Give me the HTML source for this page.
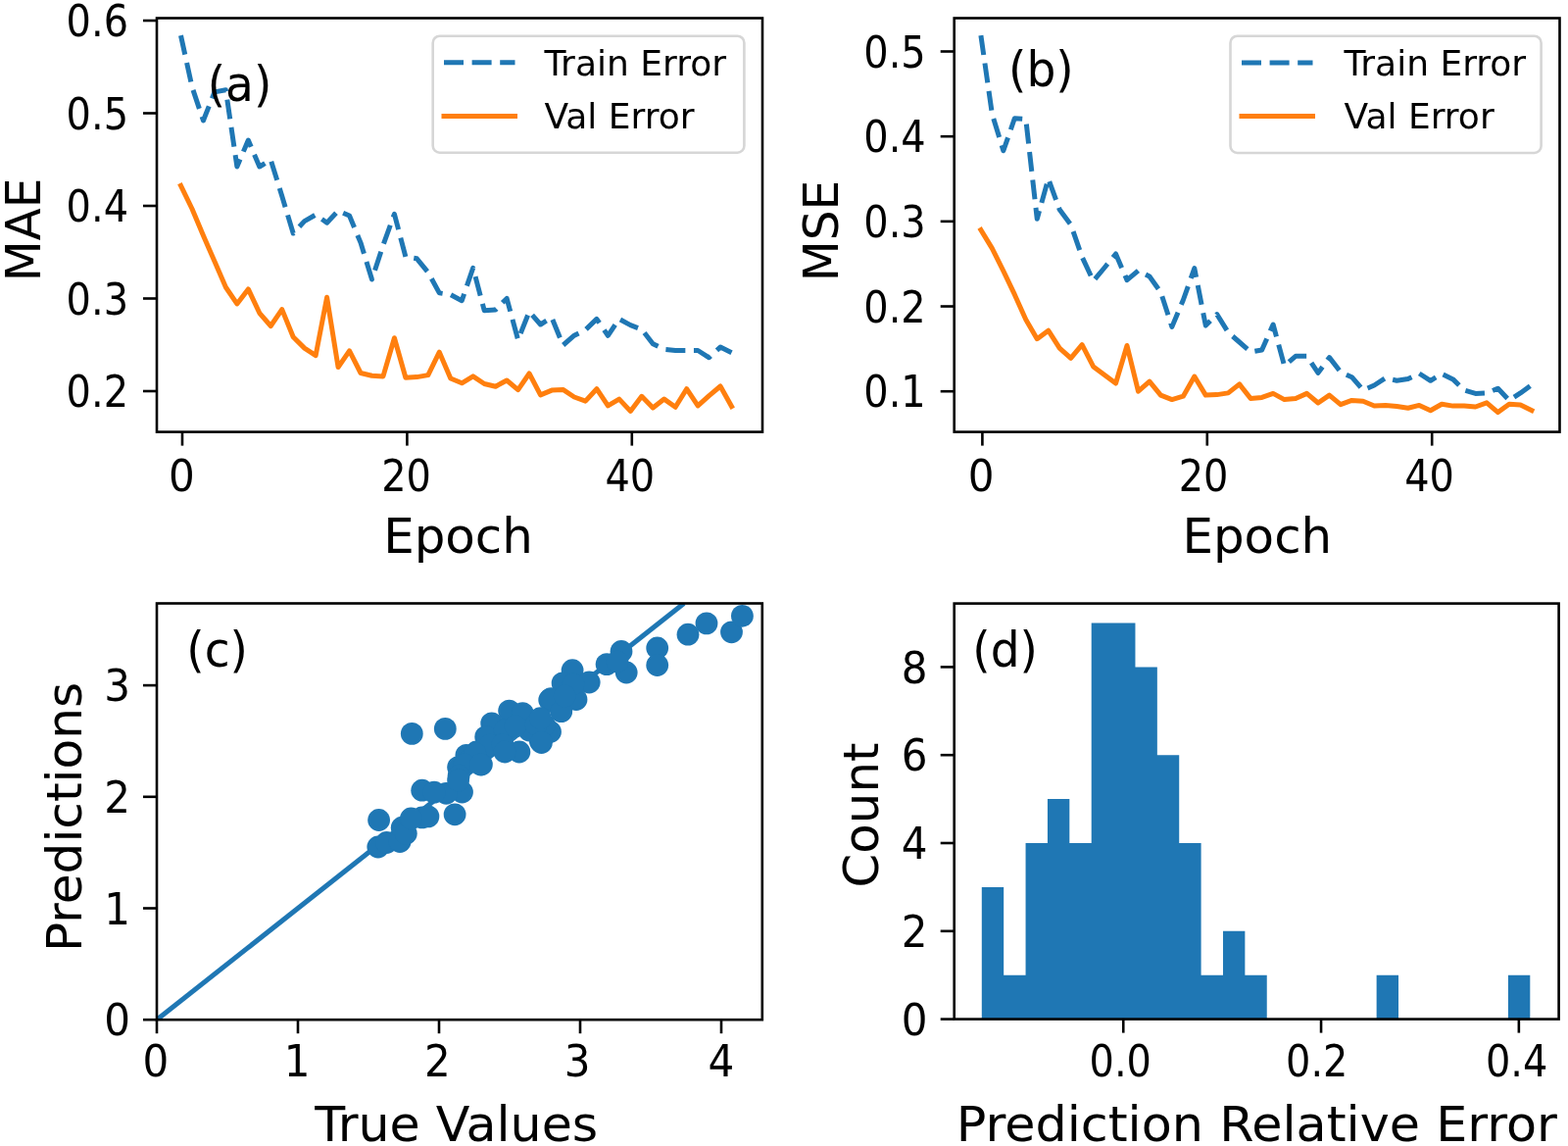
<!DOCTYPE html>
<html><head><meta charset="utf-8"><title>Training results</title><style>html,body{margin:0;padding:0;background:#fff;overflow:hidden;width:1600px;height:1169px;}svg{display:block;}</style></head><body>
<svg width="1600" height="1169" viewBox="0 0 1600 1169" font-family="DejaVu Sans, Liberation Sans, sans-serif" fill="#000">
<rect width="1600" height="1169" fill="#fff"/>
<defs><clipPath id="ca"><rect x="160" y="18.5" width="618" height="422.1"/></clipPath><clipPath id="cb"><rect x="973.7" y="18.5" width="617.8" height="422.1"/></clipPath><clipPath id="cc"><rect x="160" y="615.5" width="617.8" height="424.70000000000005"/></clipPath></defs>
<polyline points="184.5,36.1 195.97,88.7 207.44,123 218.91,93.9 230.38,91.7 241.85,170 253.32,143 264.79,170 276.26,163 287.73,200 299.2,238 310.67,225.6 322.14,219.1 333.61,227.2 345.08,215 356.55,220 368.02,247.6 379.49,285 390.96,250 402.43,218.3 413.9,262 425.37,263.8 436.84,277.8 448.31,298.9 459.78,300.6 471.25,306.7 482.72,273.3 494.19,316.7 505.66,316 517.13,304.4 528.6,346.7 540.07,317.8 551.54,331 563.01,323.9 574.48,352.2 585.95,342.2 597.42,336.5 608.89,325.4 620.36,342.3 631.83,325.4 643.3,331.6 654.77,336 666.24,350.7 677.71,356.4 689.18,357.5 700.65,357.5 712.12,357.5 723.59,364.8 735.06,354 746.53,359.7" fill="none" stroke="#1f77b4" stroke-width="5.0" stroke-linejoin="round" stroke-linecap="butt" stroke-dasharray="20 8.6" clip-path="url(#ca)"/>
<polyline points="184.5,189.4 195.97,213 207.44,240.3 218.91,266.6 230.38,293 241.85,309.9 253.32,294.9 264.79,319.3 276.26,332.5 287.73,315.6 299.2,343.8 310.67,355.1 322.14,362.6 333.61,303.3 345.08,374.6 356.55,357.8 368.02,380.5 379.49,383.2 390.96,383.9 402.43,344.7 413.9,385.3 425.37,384.6 436.84,382.6 448.31,359.2 459.78,386 471.25,390.8 482.72,383.9 494.19,391.5 505.66,394.2 517.13,388 528.6,397.7 540.07,381 551.54,402.9 563.01,398.1 574.48,397.4 585.95,405 597.42,409.1 608.89,396.7 620.36,413.9 631.83,407.1 643.3,419.4 654.77,404.3 666.24,416 677.71,407.1 689.18,415.3 700.65,396.7 712.12,413.9 723.59,403.6 735.06,394 746.53,414.6" fill="none" stroke="#ff7f0e" stroke-width="5.0" stroke-linejoin="round" stroke-linecap="square" clip-path="url(#ca)"/>
<polyline points="1000.9,36.2 1012.37,116.3 1023.84,153.8 1035.31,120.8 1046.78,121.6 1058.25,223.3 1069.72,182.2 1081.19,213.8 1092.66,229.2 1104.13,262 1115.6,286.6 1127.07,273 1138.54,259 1150.01,285.7 1161.48,276 1172.95,282 1184.42,298 1195.89,333.4 1207.36,306 1218.83,273.7 1230.3,332.1 1241.77,320.6 1253.24,339 1264.71,349 1276.18,359 1287.65,357 1299.12,331 1310.59,373.2 1322.06,363.3 1333.53,363.3 1345,380.4 1356.47,364.6 1367.94,379.5 1379.41,384.7 1390.88,397.9 1402.35,393 1413.82,385.6 1425.29,388.2 1436.76,386.5 1448.23,381 1459.7,388.3 1471.17,381.2 1482.64,386.9 1494.11,398.1 1505.58,401.4 1517.05,400.9 1528.52,396.2 1539.99,408.4 1551.46,400.9 1562.93,392.5" fill="none" stroke="#1f77b4" stroke-width="5.0" stroke-linejoin="round" stroke-linecap="butt" stroke-dasharray="20 8.6" clip-path="url(#cb)"/>
<polyline points="1000.9,234.5 1012.37,253.4 1023.84,276.4 1035.31,300.4 1046.78,326 1058.25,345.7 1069.72,337.2 1081.19,355.1 1092.66,365.4 1104.13,351.7 1115.6,373.9 1127.07,382.5 1138.54,391 1150.01,352.5 1161.48,399.2 1172.95,389.1 1184.42,403.1 1195.89,407.6 1207.36,404.2 1218.83,384 1230.3,403.1 1241.77,402.6 1253.24,400.9 1264.71,391.9 1276.18,406.5 1287.65,405.4 1299.12,401.4 1310.59,407.6 1322.06,406.5 1333.53,401.4 1345,411 1356.47,403.1 1367.94,412.7 1379.41,408.4 1390.88,409.2 1402.35,414 1413.82,413.6 1425.29,414.5 1436.76,416.2 1448.23,413.4 1459.7,418.7 1471.17,412.2 1482.64,414.1 1494.11,414.1 1505.58,415 1517.05,410.8 1528.52,420.6 1539.99,412.2 1551.46,413.1 1562.93,418.7" fill="none" stroke="#ff7f0e" stroke-width="5.0" stroke-linejoin="round" stroke-linecap="square" clip-path="url(#cb)"/>
<line x1="160" y1="1040.2" x2="697.88" y2="615.5" stroke="#1f77b4" stroke-width="5.0" clip-path="url(#cc)"/>
<g fill="#1f77b4" clip-path="url(#cc)"><circle cx="420.3" cy="748.4" r="11.4"/><circle cx="454.3" cy="743.4" r="11.4"/><circle cx="386.6" cy="836.5" r="11.4"/><circle cx="385.8" cy="864" r="11.4"/><circle cx="394.5" cy="859.5" r="11.4"/><circle cx="471.5" cy="808" r="11.4"/><circle cx="408.1" cy="858.5" r="11.4"/><circle cx="410.2" cy="844.2" r="11.4"/><circle cx="430.7" cy="833.9" r="11.4"/><circle cx="436.9" cy="832.9" r="11.4"/><circle cx="430.7" cy="806.2" r="11.4"/><circle cx="464.1" cy="830.8" r="11.4"/><circle cx="455.3" cy="809.3" r="11.4"/><circle cx="467.6" cy="782.6" r="11.4"/><circle cx="475.9" cy="770.3" r="11.4"/><circle cx="519.6" cy="725.1" r="11.4"/><circle cx="533.3" cy="727.6" r="11.4"/><circle cx="501.7" cy="737.9" r="11.4"/><circle cx="495.7" cy="751.6" r="11.4"/><circle cx="486.3" cy="767" r="11.4"/><circle cx="529.9" cy="767" r="11.4"/><circle cx="561.5" cy="746.5" r="11.4"/><circle cx="551.3" cy="755.9" r="11.4"/><circle cx="555.5" cy="739.6" r="11.4"/><circle cx="560.7" cy="714" r="11.4"/><circle cx="572.7" cy="724.2" r="11.4"/><circle cx="491.4" cy="779.8" r="11.4"/><circle cx="478.6" cy="775.5" r="11.4"/><circle cx="515" cy="745" r="11.4"/><circle cx="540" cy="745" r="11.4"/><circle cx="510" cy="760" r="11.4"/><circle cx="584.1" cy="683.7" r="11.4"/><circle cx="574.1" cy="696.9" r="11.4"/><circle cx="601.2" cy="696" r="11.4"/><circle cx="562.2" cy="712.6" r="11.4"/><circle cx="588" cy="713.5" r="11.4"/><circle cx="572.7" cy="725.7" r="11.4"/><circle cx="619.1" cy="677.6" r="11.4"/><circle cx="634" cy="664.5" r="11.4"/><circle cx="639.2" cy="686" r="11.4"/><circle cx="670.7" cy="661" r="11.4"/><circle cx="670.7" cy="678.5" r="11.4"/><circle cx="585" cy="698" r="11.4"/><circle cx="630" cy="675" r="11.4"/><circle cx="702" cy="647.2" r="11.4"/><circle cx="721" cy="635.9" r="11.4"/><circle cx="746.5" cy="644.8" r="11.4"/><circle cx="757.4" cy="628.3" r="11.4"/><circle cx="526" cy="740.6" r="11.4"/><circle cx="500" cy="760" r="11.4"/><circle cx="513" cy="759.8" r="11.4"/><circle cx="515" cy="767" r="11.4"/><circle cx="547" cy="739" r="11.4"/><circle cx="551.4" cy="732.7" r="11.4"/><circle cx="552.5" cy="757.5" r="11.4"/><circle cx="485" cy="768.75" r="11.4"/><circle cx="473.75" cy="780" r="11.4"/><circle cx="490.6" cy="780" r="11.4"/><circle cx="468.1" cy="791.25" r="11.4"/><circle cx="414.3" cy="850.3" r="11.4"/><circle cx="467.6" cy="795.9" r="11.4"/><circle cx="443" cy="808.2" r="11.4"/><circle cx="576.25" cy="710" r="11.4"/><circle cx="419.4" cy="835" r="11.4"/></g>
<path fill="#1f77b4" d="M1001.8 1039.6 L1001.8 904.9 L1024.18 904.9 L1024.18 994.7 L1046.56 994.7 L1046.56 860 L1068.94 860 L1068.94 815.1 L1091.32 815.1 L1091.32 860 L1113.7 860 L1113.7 635.5 L1136.08 635.5 L1136.08 635.5 L1158.46 635.5 L1158.46 680.4 L1180.84 680.4 L1180.84 770.2 L1203.22 770.2 L1203.22 860 L1225.6 860 L1225.6 994.7 L1247.98 994.7 L1247.98 949.8 L1270.36 949.8 L1270.36 994.7 L1292.74 994.7 L1292.74 1039.6 Z M1404.64 1039.6 L1404.64 994.7 L1427.02 994.7 L1427.02 1039.6 Z M1538.92 1039.6 L1538.92 994.7 L1561.3 994.7 L1561.3 1039.6 Z"/>
<rect x="160" y="18.5" width="618" height="422.1" fill="none" stroke="#000" stroke-width="2.6" stroke-linejoin="miter"/>
<rect x="973.7" y="18.5" width="617.8" height="422.1" fill="none" stroke="#000" stroke-width="2.6" stroke-linejoin="miter"/>
<rect x="160" y="615.5" width="617.8" height="424.7" fill="none" stroke="#000" stroke-width="2.6" stroke-linejoin="miter"/>
<rect x="973.7" y="615.6" width="616.9" height="424" fill="none" stroke="#000" stroke-width="2.6" stroke-linejoin="miter"/>
<line x1="146" y1="399" x2="160" y2="399" stroke="#000" stroke-width="2.6"/><text transform="translate(131 415.15) scale(0.9 1)" font-size="44.3" text-anchor="end">0.2</text><line x1="146" y1="304.5" x2="160" y2="304.5" stroke="#000" stroke-width="2.6"/><text transform="translate(131 320.65) scale(0.9 1)" font-size="44.3" text-anchor="end">0.3</text><line x1="146" y1="210" x2="160" y2="210" stroke="#000" stroke-width="2.6"/><text transform="translate(131 226.15) scale(0.9 1)" font-size="44.3" text-anchor="end">0.4</text><line x1="146" y1="115.5" x2="160" y2="115.5" stroke="#000" stroke-width="2.6"/><text transform="translate(131 131.65) scale(0.9 1)" font-size="44.3" text-anchor="end">0.5</text><line x1="146" y1="21" x2="160" y2="21" stroke="#000" stroke-width="2.6"/><text transform="translate(131 37.15) scale(0.9 1)" font-size="44.3" text-anchor="end">0.6</text>
<line x1="186" y1="440.6" x2="186" y2="454.6" stroke="#000" stroke-width="2.6"/><text transform="translate(185.5 501) scale(0.95 1)" font-size="44.3" text-anchor="middle">0</text><line x1="415.4" y1="440.6" x2="415.4" y2="454.6" stroke="#000" stroke-width="2.6"/><text transform="translate(414.5 501) scale(0.9 1)" font-size="44.3" text-anchor="middle">20</text><line x1="644.8" y1="440.6" x2="644.8" y2="454.6" stroke="#000" stroke-width="2.6"/><text transform="translate(642.8 501) scale(0.9 1)" font-size="44.3" text-anchor="middle">40</text>
<line x1="959.7" y1="399.2" x2="973.7" y2="399.2" stroke="#000" stroke-width="2.6"/><text transform="translate(944.7 415.35) scale(0.9 1)" font-size="44.3" text-anchor="end">0.1</text><line x1="959.7" y1="312.52" x2="973.7" y2="312.52" stroke="#000" stroke-width="2.6"/><text transform="translate(944.7 328.67) scale(0.9 1)" font-size="44.3" text-anchor="end">0.2</text><line x1="959.7" y1="225.85" x2="973.7" y2="225.85" stroke="#000" stroke-width="2.6"/><text transform="translate(944.7 242) scale(0.9 1)" font-size="44.3" text-anchor="end">0.3</text><line x1="959.7" y1="139.17" x2="973.7" y2="139.17" stroke="#000" stroke-width="2.6"/><text transform="translate(944.7 155.32) scale(0.9 1)" font-size="44.3" text-anchor="end">0.4</text><line x1="959.7" y1="52.5" x2="973.7" y2="52.5" stroke="#000" stroke-width="2.6"/><text transform="translate(944.7 68.65) scale(0.9 1)" font-size="44.3" text-anchor="end">0.5</text>
<line x1="1002.4" y1="440.6" x2="1002.4" y2="454.6" stroke="#000" stroke-width="2.6"/><text transform="translate(1001.25 501) scale(0.95 1)" font-size="44.3" text-anchor="middle">0</text><line x1="1231.8" y1="440.6" x2="1231.8" y2="454.6" stroke="#000" stroke-width="2.6"/><text transform="translate(1228.1 501) scale(0.9 1)" font-size="44.3" text-anchor="middle">20</text><line x1="1461.2" y1="440.6" x2="1461.2" y2="454.6" stroke="#000" stroke-width="2.6"/><text transform="translate(1458.5 501) scale(0.9 1)" font-size="44.3" text-anchor="middle">40</text>
<line x1="146" y1="1040.2" x2="160" y2="1040.2" stroke="#000" stroke-width="2.6"/><text transform="translate(133 1056.35) scale(0.95 1)" font-size="44.3" text-anchor="end">0</text><line x1="146" y1="926.5" x2="160" y2="926.5" stroke="#000" stroke-width="2.6"/><text transform="translate(133 942.65) scale(0.95 1)" font-size="44.3" text-anchor="end">1</text><line x1="146" y1="812.8" x2="160" y2="812.8" stroke="#000" stroke-width="2.6"/><text transform="translate(133 828.95) scale(0.95 1)" font-size="44.3" text-anchor="end">2</text><line x1="146" y1="699.1" x2="160" y2="699.1" stroke="#000" stroke-width="2.6"/><text transform="translate(133 715.25) scale(0.95 1)" font-size="44.3" text-anchor="end">3</text>
<line x1="160" y1="1040.2" x2="160" y2="1054.2" stroke="#000" stroke-width="2.6"/><text transform="translate(158.9 1097.7) scale(0.95 1)" font-size="44.3" text-anchor="middle">0</text><line x1="304" y1="1040.2" x2="304" y2="1054.2" stroke="#000" stroke-width="2.6"/><text transform="translate(303.25 1097.7) scale(0.95 1)" font-size="44.3" text-anchor="middle">1</text><line x1="448" y1="1040.2" x2="448" y2="1054.2" stroke="#000" stroke-width="2.6"/><text transform="translate(446.5 1097.7) scale(0.95 1)" font-size="44.3" text-anchor="middle">2</text><line x1="592" y1="1040.2" x2="592" y2="1054.2" stroke="#000" stroke-width="2.6"/><text transform="translate(589.25 1097.7) scale(0.95 1)" font-size="44.3" text-anchor="middle">3</text><line x1="736" y1="1040.2" x2="736" y2="1054.2" stroke="#000" stroke-width="2.6"/><text transform="translate(735.9 1097.7) scale(0.95 1)" font-size="44.3" text-anchor="middle">4</text>
<line x1="959.7" y1="1039.6" x2="973.7" y2="1039.6" stroke="#000" stroke-width="2.6"/><text transform="translate(946.5 1055.75) scale(0.95 1)" font-size="44.3" text-anchor="end">0</text><line x1="959.7" y1="949.8" x2="973.7" y2="949.8" stroke="#000" stroke-width="2.6"/><text transform="translate(946.5 965.95) scale(0.95 1)" font-size="44.3" text-anchor="end">2</text><line x1="959.7" y1="860" x2="973.7" y2="860" stroke="#000" stroke-width="2.6"/><text transform="translate(946.5 876.15) scale(0.95 1)" font-size="44.3" text-anchor="end">4</text><line x1="959.7" y1="770.2" x2="973.7" y2="770.2" stroke="#000" stroke-width="2.6"/><text transform="translate(946.5 786.35) scale(0.95 1)" font-size="44.3" text-anchor="end">6</text><line x1="959.7" y1="680.4" x2="973.7" y2="680.4" stroke="#000" stroke-width="2.6"/><text transform="translate(946.5 696.55) scale(0.95 1)" font-size="44.3" text-anchor="end">8</text>
<line x1="1146.25" y1="1039.6" x2="1146.25" y2="1053.6" stroke="#000" stroke-width="2.6"/><text transform="translate(1143.25 1098.2) scale(0.9 1)" font-size="44.3" text-anchor="middle">0.0</text><line x1="1348.05" y1="1039.6" x2="1348.05" y2="1053.6" stroke="#000" stroke-width="2.6"/><text transform="translate(1343.75 1098.2) scale(0.9 1)" font-size="44.3" text-anchor="middle">0.2</text><line x1="1549.85" y1="1039.6" x2="1549.85" y2="1053.6" stroke="#000" stroke-width="2.6"/><text transform="translate(1547.65 1098.2) scale(0.9 1)" font-size="44.3" text-anchor="middle">0.4</text>
<text transform="translate(467.5 564.1) scale(0.99 1)" font-size="50.4" text-anchor="middle">Epoch</text>
<text transform="translate(1282.8 564.4) scale(0.99 1)" font-size="50.4" text-anchor="middle">Epoch</text>
<text transform="translate(465.7 1163.7) scale(1.005 1)" font-size="50.4" text-anchor="middle">True Values</text>
<text transform="translate(1282.3 1164) scale(1.008 1)" font-size="50.4" text-anchor="middle">Prediction Relative Error</text>
<text transform="translate(41.3 234.4) rotate(-90) scale(0.965 1)" font-size="50.4" text-anchor="middle">MAE</text>
<text transform="translate(855.1 235.5) rotate(-90) scale(0.965 1)" font-size="50.4" text-anchor="middle">MSE</text>
<text transform="translate(83.4 833.5) rotate(-90) scale(0.995 1)" font-size="50.4" text-anchor="middle">Predictions</text>
<text transform="translate(895.6 831.5) rotate(-90) scale(0.99 1)" font-size="50.4" text-anchor="middle">Count</text>
<text transform="translate(244.5 102.8) scale(0.935 1)" font-size="50.4" text-anchor="middle">(a)</text>
<text transform="translate(1062.4 88) scale(0.935 1)" font-size="50.4" text-anchor="middle">(b)</text>
<text transform="translate(221.6 680) scale(0.935 1)" font-size="50.4" text-anchor="middle">(c)</text>
<text transform="translate(1025.6 680.4) scale(0.935 1)" font-size="50.4" text-anchor="middle">(d)</text>
<rect x="441.7" y="36.7" width="317.7" height="119" rx="7" ry="7" fill="#fff" fill-opacity="0.8" stroke="#d6d6d6" stroke-width="2.6"/><line x1="453" y1="63.7" x2="525.5" y2="63.7" stroke="#1f77b4" stroke-width="5.0" stroke-dasharray="20 8.6"/><line x1="453" y1="118.5" x2="525.5" y2="118.5" stroke="#ff7f0e" stroke-width="5.0" stroke-linecap="square"/><text transform="translate(555.4 77.1)" font-size="36.0" text-anchor="start">Train Error</text><text transform="translate(555.4 131.2)" font-size="36.0" text-anchor="start">Val Error</text>
<rect x="1255.5" y="36.7" width="317.1" height="119.3" rx="7" ry="7" fill="#fff" fill-opacity="0.8" stroke="#d6d6d6" stroke-width="2.6"/><line x1="1267" y1="63.9" x2="1339.5" y2="63.9" stroke="#1f77b4" stroke-width="5.0" stroke-dasharray="20 8.6"/><line x1="1267" y1="118.4" x2="1339.5" y2="118.4" stroke="#ff7f0e" stroke-width="5.0" stroke-linecap="square"/><text transform="translate(1371.6 77.2)" font-size="36.0" text-anchor="start">Train Error</text><text transform="translate(1371.6 130.8)" font-size="36.0" text-anchor="start">Val Error</text>
</svg>
</body></html>
